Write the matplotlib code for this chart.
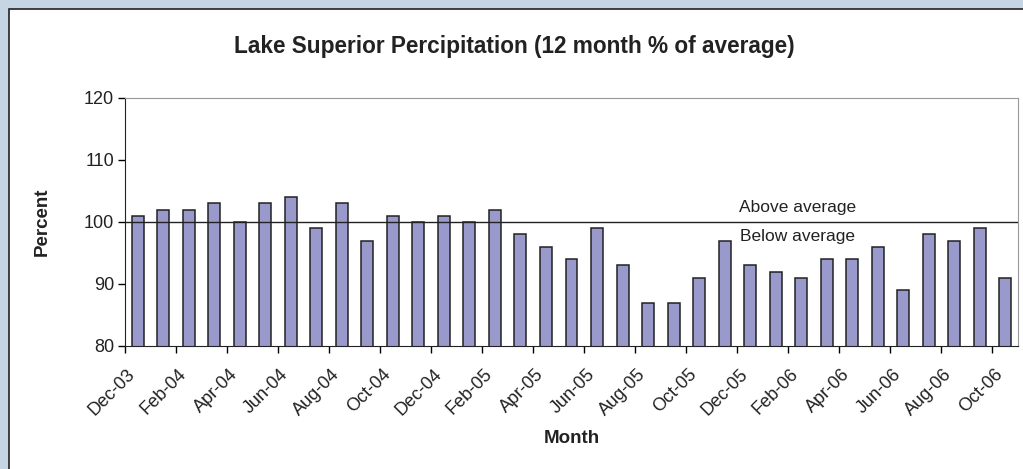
import matplotlib
matplotlib.use("Agg")
import matplotlib.pyplot as plt
import matplotlib.transforms as mtransforms
from matplotlib.patches import Rectangle

plt.rcParams["font.family"] = ["Liberation Sans", "DejaVu Sans"]

# meses (Dec-03 .. Oct-06) y porcentaje de precipitacion a 12 meses
meses = ["Dec-03", "Jan-04", "Feb-04", "Mar-04", "Apr-04", "May-04", "Jun-04",
         "Jul-04", "Aug-04", "Sep-04", "Oct-04", "Nov-04", "Dec-04", "Jan-05",
         "Feb-05", "Mar-05", "Apr-05", "May-05", "Jun-05", "Jul-05", "Aug-05",
         "Sep-05", "Oct-05", "Nov-05", "Dec-05", "Jan-06", "Feb-06", "Mar-06",
         "Apr-06", "May-06", "Jun-06", "Jul-06", "Aug-06", "Sep-06", "Oct-06"]
porcentaje = [101, 102, 102, 103, 100, 103, 104, 99, 103, 97, 101, 100, 101, 100,
              102, 98, 96, 94, 99, 93, 87, 87, 91, 97, 93, 92, 91, 94, 94, 96,
              89, 98, 97, 99, 91]
y_ticks = [80, 90, 100, 110, 120]
promedio = 100

W, H = 1023, 469
fig = plt.figure(figsize=(W / 100, H / 100), dpi=100)
fig.patch.set_facecolor("#C5D5E3")

# panel blanco con borde (recortado a derecha y abajo)
fig.patches.append(Rectangle((9 / W, -0.1), 1.2, (H - 9) / H + 0.1,
                             transform=fig.transFigure, facecolor="white",
                             edgecolor="#222222", linewidth=1.2, zorder=-5))

ax = fig.add_axes([125 / W, (H - 346) / H, 893 / W, 248 / H])
ax.set_zorder(5)
ax.set_facecolor("white")

x = list(range(len(meses)))
ax.bar(x, porcentaje, width=0.47, color="#9999CC", edgecolor="#222222",
       linewidth=1.1, zorder=2)
ax.axhline(promedio, color="#222222", linewidth=1.0, zorder=3)

ax.set_xlim(-0.5, len(meses) - 0.5)
ax.set_ylim(y_ticks[0], y_ticks[-1])
ax.set_yticks(y_ticks)
ax.set_yticklabels([str(v) for v in y_ticks], fontsize=13, color="#222222")
ax.tick_params(axis="y", direction="out", length=5, width=1, pad=3)

# ticks mayores en los bordes de categoria (cada 2), etiquetas en el centro
ax.set_xticks([i - 0.5 for i in range(0, len(meses), 2)])
ax.set_xticklabels([])
ax.tick_params(axis="x", which="major", direction="out", length=5, width=1)
ax.set_xticks(x[::2], minor=True)
ax.set_xticklabels(meses[::2], minor=True, rotation=45, ha="right",
                   rotation_mode="anchor", fontsize=13, color="#222222")
ax.tick_params(axis="x", which="minor", length=0, pad=14)
desplaza = mtransforms.ScaledTranslation(-11 / 100, 0, fig.dpi_scale_trans)
for lbl in ax.get_xticklabels(minor=True):
    lbl.set_transform(lbl.get_transform() + desplaza)

for s in ("left", "bottom"):
    ax.spines[s].set_color("#222222")
for s in ("top", "right"):
    ax.spines[s].set_color("#999999")

# etiquetas sobre/bajo la linea del promedio (x en coordenadas de categoria)
ax.text(25.85, 102.3, "Above average", ha="center", va="center", fontsize=12.5,
        color="#222222")
ax.text(25.85, 97.7, "Below average", ha="center", va="center", fontsize=12.5,
        color="#222222")

fig.text(514 / W, 1 - 46 / H, "Lake Superior Percipitation (12 month % of average)",
         ha="center", va="center", fontsize=16.3, fontweight="bold", color="#222222")
fig.text(572 / W, 1 - 438 / H, "Month", ha="center", va="center",
         fontsize=13.5, fontweight="bold", color="#222222")
fig.text(42 / W, 1 - 222 / H, "Percent", ha="center", va="center", rotation=90,
         fontsize=13.5, fontweight="bold", color="#222222")

fig.savefig("out.png", dpi=100, facecolor=fig.get_facecolor())
